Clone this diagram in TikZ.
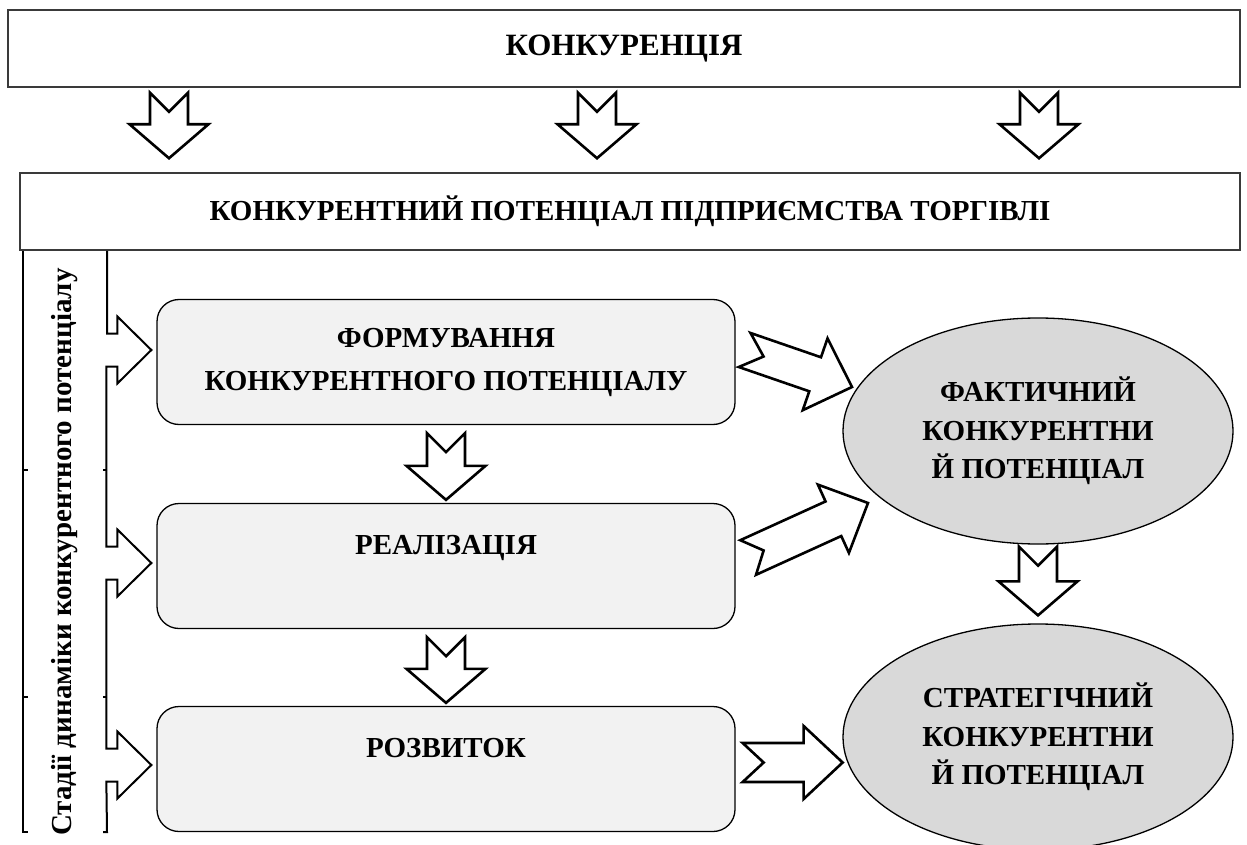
\documentclass[tikz,border=0pt]{standalone}
\usepackage{fontspec}
\setmainfont{Liberation Serif}
\usetikzlibrary{calc,shapes.geometric}

\definecolor{boxfill}{HTML}{F2F2F2}
\definecolor{ovalfill}{HTML}{D9D9D9}
\definecolor{frame}{HTML}{3A3A3A}

\newcommand\diagfont{\fontsize{29}{43}\selectfont\bfseries}
\newcommand\titlefont{\fontsize{31}{43}\selectfont\bfseries}
\newcommand\ovalfont{\fontsize{29}{38.5}\selectfont\bfseries}

\tikzset{
  headbox/.style={draw=frame, line width=1.5pt, fill=white, minimum height=77pt,
    inner sep=0pt, font=\diagfont},
  stagebox/.style={draw=black, line width=1.3pt, fill=boxfill, rounded corners=22pt,
    minimum width=578pt, minimum height=125pt, align=center, inner sep=0pt, font=\diagfont},
  resultoval/.style={ellipse, draw=black, line width=1.3pt, fill=ovalfill,
    minimum width=390pt, minimum height=226pt, align=center, inner sep=0pt, font=\ovalfont},
  arrowline/.style={draw=black, fill=white, line width=2.6pt, line join=miter},
  railline/.style={draw=black, line width=2pt, line join=miter}
}

% hollow block arrow with a notched tail, from tail midpoint #1 to tip #2;
% #3 shaft half-width, #4 head half-width, #5 head length, #6 notch depth
\newcommand\blockarrow[6]{%
  \path (#1); \pgfgetlastxy{\bax}{\bay}%
  \path (#2); \pgfgetlastxy{\bbx}{\bby}%
  \pgfmathsetmacro\baang{atan2(\bby-\bay,\bbx-\bax)}%
  \pgfmathsetmacro\balen{veclen(\bbx-\bax,\bby-\bay)}%
  \draw[arrowline, shift={(#1)}, rotate=\baang]
    (0pt,#3) -- (\balen pt-#5,#3) -- (\balen pt-#5,#4) -- (\balen pt,0pt)
    -- (\balen pt-#5,-#4) -- (\balen pt-#5,-#3) -- (0pt,-#3) -- (#6,0pt) -- cycle;
}

\begin{document}
\begin{tikzpicture}[x=1pt, y=-1pt]
\clip (0,0) rectangle (1247,845);
\fill[white] (0,0) rectangle (1247,845);

% headers
\node[headbox, minimum width=1232pt, font=\titlefont] (K) at (624,48.5) {КОНКУРЕНЦІЯ};
\node[headbox, minimum width=1220pt] (P) at (630,211.5) {КОНКУРЕНТНИЙ ПОТЕНЦІАЛ ПІДПРИЄМСТВА ТОРГІВЛІ};

% stages
\node[stagebox] (F) at (446,362) {ФОРМУВАННЯ\\КОНКУРЕНТНОГО ПОТЕНЦІАЛУ};
\node[stagebox] (R) at (446,566) {РЕАЛІЗАЦІЯ\\\mbox{}};
\node[stagebox] (D) at (446,769) {РОЗВИТОК\\\mbox{}};

% results
\node[resultoval] (A) at (1038,431) {ФАКТИЧНИЙ\\КОНКУРЕНТНИ\\Й ПОТЕНЦІАЛ};
\node[resultoval] (S) at (1038,737) {СТРАТЕГІЧНИЙ\\КОНКУРЕНТНИ\\Й ПОТЕНЦІАЛ};

% side caption
\node[rotate=90, font=\diagfont] (V) at (65,552) {Стадії динаміки конкурентного потенціалу};

% arrows from the competition box
\coordinate (c1) at (169,0);
\coordinate (c2) at (597,0);
\coordinate (c3) at (1039,0);
\foreach \c in {c1,c2,c3}{
  \coordinate (t-\c) at ($(K.south -| \c)+(0,5)$);
  \coordinate (h-\c) at ($(P.north -| \c)+(0,-14)$);
  \blockarrow{t-\c}{h-\c}{19pt}{39.5pt}{34pt}{19pt}
}

% arrows between the stages
\coordinate (fr1) at ($(F.south)+(0,8)$);
\coordinate (fr2) at ($(R.north)+(0,-3)$);
\blockarrow{fr1}{fr2}{19pt}{39.5pt}{34pt}{19pt}
\coordinate (rd1) at ($(R.south)+(0,8)$);
\coordinate (rd2) at ($(D.north)+(0,-3)$);
\blockarrow{rd1}{rd2}{19pt}{39.5pt}{34pt}{19pt}

% arrow between the two results
\coordinate (as1) at ($(A.south)+(0,2)$);
\coordinate (as2) at ($(S.north)+(0,-8)$);
\blockarrow{as1}{as2}{19pt}{39.5pt}{34pt}{19pt}

% arrows from stages to results
\coordinate (fa1) at ($(F.east)+(9,-12)$);
\coordinate (fa2) at (852,387);
\blockarrow{fa1}{fa2}{18pt}{38pt}{39pt}{20pt}
\coordinate (ra1) at ($(R.east)+(12.5,-8.5)$);
\coordinate (ra2) at (868,503);
\blockarrow{ra1}{ra2}{19pt}{37.5pt}{38pt}{17pt}
\coordinate (ds1) at ($(D.east)+(7,-6.5)$);
\coordinate (ds2) at ($(D.east)+(107,-6.5)$);
\blockarrow{ds1}{ds2}{19.5pt}{36.5pt}{39pt}{21pt}

% stage rail with arrows into each stage
\coordinate (rin) at (P.south -| 107,0);
\coordinate (rout) at (P.south -| 23,0);
\coordinate (l1) at ($(F.west)+(-5,-12)$);
\coordinate (l2) at ($(R.west)+(-5,-3)$);
\coordinate (l3) at ($(D.west)+(-5,-4)$);
\draw[railline]
  (rin) |- ([shift={(-34pt,16.5pt)}]l1) -- ++(0pt,17pt) -- (l1) -- ++(-34pt,-33.5pt) -- ++(0pt,17pt) -- ++(-11pt,0pt)
  |- ([shift={(-34pt,16.5pt)}]l2) -- ++(0pt,17pt) -- (l2) -- ++(-34pt,-33.5pt) -- ++(0pt,17pt) -- ++(-11pt,0pt)
  |- ([shift={(-34pt,16.5pt)}]l3) -- ++(0pt,17pt) -- (l3) -- ++(-34pt,-33.5pt) -- ++(0pt,17pt) -- ++(-11pt,0pt)
  -- (107,832) -- (103,832);
\draw[railline] (107,470) -- (103,470);
\draw[railline] (107,697) -- (103,697);
\draw[railline] (rout) -- (23,832) -- (28,832);
\draw[railline] (23,470) -- (28,470);
\draw[railline] (23,697) -- (28,697);
\end{tikzpicture}
\end{document}
